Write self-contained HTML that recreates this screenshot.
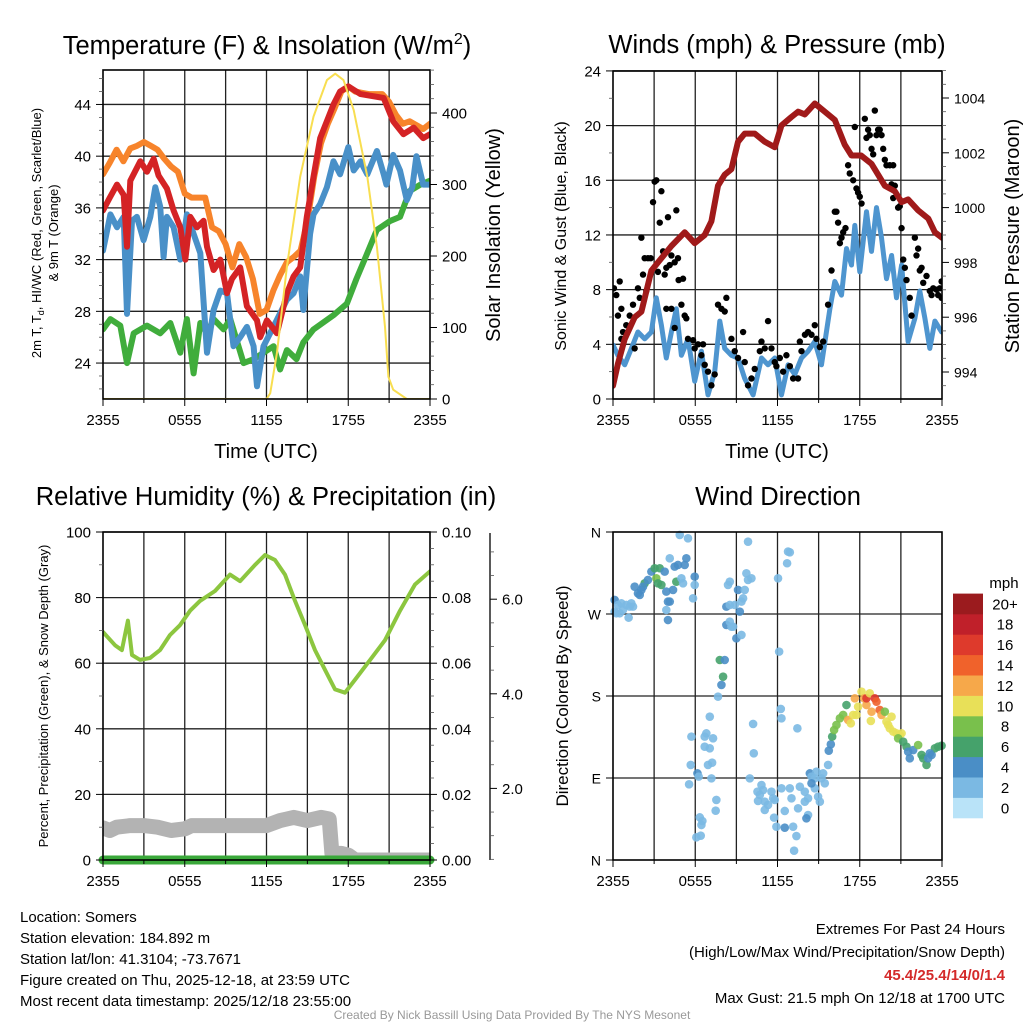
<!DOCTYPE html>
<html><head><meta charset="utf-8">
<style>
html,body{margin:0;padding:0;background:#fff;}
svg{display:block;font-family:"Liberation Sans",Arial,sans-serif;}
</style></head>
<body>
<svg id="chart" width="1024" height="1024" viewBox="0 0 1024 1024" xmlns="http://www.w3.org/2000/svg">
<rect width="1024" height="1024" fill="#fff"/>
<g id="layer"></g>
<!-- titles -->
<text x="267" y="54" font-size="25.5" text-anchor="middle">Temperature (F) &amp; Insolation (W/m<tspan font-size="16" dy="-10">2</tspan><tspan dy="10">)</tspan></text>
<text x="777" y="53" font-size="25.5" text-anchor="middle">Winds (mph) &amp; Pressure (mb)</text>
<text x="266" y="505" font-size="25.5" text-anchor="middle">Relative Humidity (%) &amp; Precipitation (in)</text>
<text x="778" y="505" font-size="25.5" text-anchor="middle">Wind Direction</text>
<!-- axis titles -->
<text x="266" y="458" font-size="20" text-anchor="middle">Time (UTC)</text>
<text x="777" y="458" font-size="20" text-anchor="middle">Time (UTC)</text>
<text transform="translate(41,233) rotate(-90)" font-size="13" text-anchor="middle">2m T, T<tspan font-size="9" dy="3">d</tspan><tspan dy="-3">, HI/WC (Red, Green, Scarlet/Blue)</tspan></text>
<text transform="translate(58,233) rotate(-90)" font-size="13" text-anchor="middle">&amp; 9m T (Orange)</text>
<text transform="translate(500,235) rotate(-90)" font-size="20" text-anchor="middle">Solar Insolation (Yellow)</text>
<text transform="translate(566,236) rotate(-90)" font-size="16" text-anchor="middle">Sonic Wind &amp; Gust (Blue, Black)</text>
<text transform="translate(1019,236) rotate(-90)" font-size="20" text-anchor="middle">Station Pressure (Maroon)</text>
<text transform="translate(48,696) rotate(-90)" font-size="13" text-anchor="middle">Percent, Precipitation (Green), &amp; Snow Depth (Gray)</text>
<text transform="translate(568,696) rotate(-90)" font-size="17" text-anchor="middle">Direction (Colored By Speed)</text>
<!-- footer -->
<g font-size="15">
<text x="20" y="922">Location: Somers</text>
<text x="20" y="943">Station elevation: 184.892 m</text>
<text x="20" y="964">Station lat/lon: 41.3104; -73.7671</text>
<text x="20" y="985">Figure created on Thu, 2025-12-18, at 23:59 UTC</text>
<text x="20" y="1006">Most recent data timestamp: 2025/12/18 23:55:00</text>
</g>
<g font-size="15" text-anchor="end">
<text x="1005" y="934">Extremes For Past 24 Hours</text>
<text x="1005" y="957">(High/Low/Max Wind/Precipitation/Snow Depth)</text>
<text x="1005" y="980" fill="#d42a2a" font-weight="bold">45.4/25.4/14/0/1.4</text>
<text x="1005" y="1003">Max Gust: 21.5 mph On 12/18 at 1700 UTC</text>
</g>
<text x="512" y="1019" font-size="12" fill="#999" text-anchor="middle">Created By Nick Bassill Using Data Provided By The NYS Mesonet</text>
</svg>
<script>
// ---------- DATA ----------
const timeTickLabels = ["2355","0555","1155","1755","2355"];
const tempTicks = [24,28,32,36,40,44];
const solarTicks = [0,100,200,300,400];
const windTicks = [0,4,8,12,16,20,24];
const pressureTicks = [994,996,998,1000,1002,1004];
const rhTicks = [0,20,40,60,80,100];
const precipTicks = ["0.00","0.02","0.04","0.06","0.08","0.10"];
const snowTicks = ["2.0","4.0","6.0"];
const dirTicks = ["N","E","S","W","N"];
const speedBins = ["0","2","4","6","8","10","12","14","16","18","20+"];

const temp9m = [[0,38.6],[0.5,39.5],[1,40.5],[1.5,39.6],[2,40.6],[2.5,40.8],[3,41.1],[3.5,40.8],[4,40.5],[4.5,39.8],[5,39.2],[5.5,38.8],[6,37.1],[6.5,36.8],[7,36.8],[7.5,36.8],[8,34.5],[8.5,34.2],[9,33.2],[9.5,31.4],[10,33.2],[10.5,32.2],[11,30.5],[11.5,27.8],[12,28.1],[12.5,29.6],[13,30.8],[13.5,31.8],[14,32.2],[14.5,32.7],[15,35.0],[15.5,38.4],[16,41.0],[16.5,42.5],[17,43.7],[17.5,45.0],[18,45.4],[18.5,45.0],[19,44.9],[19.5,44.8],[20,44.8],[20.5,44.8],[21,44.2],[21.5,43.2],[22,42.5],[22.5,42.7],[23,42.4],[23.5,42.1],[24,42.5]];
const temp2m = [[0,35.8],[0.5,36.8],[1.03,37.8],[1.52,37.0],[1.76,33.0],[2.0,38.1],[2.74,39.6],[3.23,38.8],[3.72,39.8],[4.08,38.5],[4.69,37.5],[5.18,35.8],[5.67,34.5],[6.04,32.0],[6.41,35.3],[6.89,34.5],[7.38,35.0],[7.63,33.0],[8.12,31.2],[8.61,32.0],[9.1,29.4],[9.46,30.5],[10.07,31.4],[10.56,28.4],[11.3,27.3],[11.54,26.0],[12.03,27.3],[12.76,26.3],[13.5,29.4],[13.99,30.7],[14.47,31.4],[14.96,35.3],[15.45,38.4],[15.94,41.4],[16.92,44.0],[17.4,45.0],[18.0,45.4],[18.9,44.8],[20.6,44.5],[21.3,42.7],[22.05,41.7],[22.8,42.2],[23.5,41.4],[24,41.7]];
const windChill = [[0,32.7],[0.54,35.5],[1.03,34.5],[1.52,35.3],[1.76,27.8],[2.13,35.0],[2.49,35.3],[2.98,33.5],[3.47,35.3],[3.84,37.6],[4.2,36.1],[4.45,32.2],[4.69,35.3],[5.18,34.5],[5.67,32.0],[6.16,35.5],[6.65,34.0],[7.14,32.5],[7.63,24.8],[8.12,28.1],[8.61,29.6],[9.1,29.4],[9.58,25.3],[10.07,26.0],[10.56,26.8],[11.05,25.3],[11.3,22.2],[11.78,25.3],[12.6,27.0],[13.5,28.9],[13.99,29.4],[14.47,30.7],[14.7,28.1],[15.2,34.0],[15.45,35.5],[15.94,36.3],[16.43,37.6],[16.92,39.6],[17.4,38.6],[18.0,40.7],[18.4,38.9],[18.9,39.6],[19.4,38.6],[20.1,40.4],[20.6,38.6],[20.8,37.8],[21.3,40.1],[21.8,38.9],[22.3,36.6],[22.7,37.6],[23.0,40.0],[23.5,37.8],[24,37.8]];
const dewpoint = [[0,26.6],[0.54,27.4],[1.27,26.9],[1.76,24.0],[2.25,26.3],[3.23,26.9],[4.2,26.3],[4.94,27.1],[5.67,24.8],[6.16,27.4],[6.65,23.2],[7.14,27.1],[7.63,26.3],[8.12,27.4],[8.85,26.6],[9.34,27.4],[10.32,24.0],[11.05,24.3],[11.78,24.8],[12.52,25.3],[13.0,23.5],[13.5,25.0],[14.2,24.3],[14.7,25.6],[15.45,26.6],[16.92,27.7],[17.9,28.6],[18.6,30.5],[19.4,32.5],[20.1,34.3],[21.1,35.0],[21.8,35.3],[22.5,37.3],[23.3,37.8],[24,38.1]];
const solar = [[0,0],[12.0,0],[12.27,8],[12.76,64],[13.5,185],[14.47,311],[15.45,395],[16.43,446],[17.04,455],[17.65,446],[18.4,404],[19.4,311],[20.1,213],[20.7,101],[20.95,31],[21.3,13],[22.3,0],[24,0]];

const pressure = [[0,993.5],[0.36,994.3],[0.85,995.2],[1.58,996.0],[2.07,996.2],[2.8,997.7],[3.28,998.0],[4.26,998.6],[5.23,999.1],[5.96,998.7],[6.69,999.0],[7.18,999.5],[7.66,1000.8],[8.15,1001.2],[8.64,1001.4],[9.12,1002.4],[9.61,1002.7],[10.34,1002.7],[11.07,1002.4],[11.8,1002.2],[12.29,1003.0],[13.0,1003.3],[13.5,1003.5],[14.0,1003.4],[14.72,1003.8],[15.45,1003.5],[16.18,1003.2],[16.9,1002.3],[17.4,1001.9],[18.1,1001.9],[18.86,1001.6],[19.83,1000.8],[20.56,1000.6],[21.05,1000.2],[21.53,1000.3],[22.26,999.9],[23.0,999.6],[23.48,999.1],[24,998.9]];
const sonicWind = [[0,3.95],[0.36,3.2],[0.85,2.5],[1.34,3.7],[1.82,4.9],[2.31,4.4],[2.8,4.9],[3.16,7.4],[3.53,5.4],[3.89,3.0],[4.26,4.9],[4.62,6.6],[4.99,3.2],[5.47,4.4],[5.96,1.3],[6.45,3.5],[6.93,0.3],[7.42,2.0],[7.79,5.7],[8.15,3.7],[8.64,3.2],[9.12,3.0],[9.61,1.5],[10.22,0.3],[10.83,3.0],[11.31,2.5],[11.8,3.0],[12.29,0.3],[12.77,2.5],[13.26,1.8],[13.75,3.0],[14.23,3.5],[14.72,4.2],[15.21,2.5],[15.57,4.9],[15.82,6.6],[16.18,8.6],[16.67,7.6],[17.03,11.0],[17.4,9.8],[17.64,12.7],[18.0,9.3],[18.49,13.7],[18.86,10.8],[19.22,14.0],[19.59,11.8],[19.95,8.8],[20.32,10.5],[20.68,7.4],[21.05,9.8],[21.53,4.2],[22.02,5.9],[22.38,7.9],[22.75,5.9],[23.11,3.7],[23.48,5.7],[23.97,4.9]];
const gustTimes = [0.07,0.24,0.49,0.61,0.36,0.73,0.61,0.97,1.22,1.46,1.58,1.82,1.95,2.07,2.19,2.31,2.43,2.55,2.75,2.92,3.04,3.16,3.28,3.41,3.53,3.65,3.77,3.89,4.01,4.14,4.26,4.5,4.62,4.74,4.79,5.11,3.89,4.26,4.5,4.99,5.23,5.35,5.47,5.84,5.96,6.2,6.45,6.57,6.69,6.93,7.18,7.42,7.66,7.91,8.15,8.27,8.64,8.88,9.12,9.49,9.61,9.85,10.1,10.34,10.71,10.83,11.07,11.31,11.56,11.8,11.92,12.17,12.41,12.65,12.9,13.14,13.5,13.63,13.75,14.0,14.23,14.48,14.72,14.84,15.09,15.33,15.69,15.94,16.18,16.3,16.42,16.55,16.67,16.79,16.96,17.15,17.27,17.52,17.64,17.76,17.88,18.0,18.13,18.37,18.49,18.61,18.73,18.86,18.98,19.1,19.22,19.34,19.46,19.59,19.71,19.83,19.95,20.19,20.44,20.32,20.44,20.56,20.8,20.92,21.05,21.17,21.29,21.41,21.65,21.78,22.02,22.14,22.26,22.38,22.51,22.63,22.87,23.11,23.24,23.36,23.6,23.72,23.84,23.97,23.97];
const gustSpeeds = [8.1,7.6,8.6,6.6,6.1,4.9,4.4,5.4,6.1,6.9,3.7,8.1,7.4,11.8,9.1,10.3,7.9,10.3,10.3,14.4,15.9,16.0,9.3,12.9,15.2,10.8,9.1,9.6,13.3,9.8,10.5,10.0,13.8,10.3,8.7,8.8,6.6,6.6,5.2,6.9,6.1,5.9,4.4,4.3,3.7,4.0,3.2,4.0,2.5,2.0,1.0,1.8,6.9,6.6,6.4,7.4,4.4,3.5,3.0,4.9,2.7,1.0,1.5,2.2,3.5,4.2,3.7,5.7,3.7,2.7,2.4,3.0,2.0,3.2,2.4,1.5,1.5,4.2,3.5,4.7,4.9,4.7,5.4,4.4,3.8,4.2,6.9,9.4,13.7,13.7,12.9,11.4,11.8,12.2,12.5,17.1,16.5,16.0,19.9,15.4,15.1,14.8,14.3,20.5,19.1,19.7,19.3,18.3,17.9,21.1,19.3,19.7,19.7,19.3,18.3,17.5,17.1,17.1,17.1,15.7,14.7,15.6,14.0,14.1,12.5,10.2,9.6,8.7,7.4,6.1,11.8,10.5,11.0,9.4,9.6,8.5,9.0,7.9,7.6,8.1,8.0,7.6,8.1,8.6,7.4];

const rhSeries = [[0,69.5],[0.88,65.5],[1.39,64],[1.83,73],[2.13,62.5],[2.72,61],[3.45,61.6],[4.18,64],[4.92,68.6],[5.65,71.6],[6.39,76],[7.12,79],[8.22,82],[9.32,87],[10.06,85],[11.16,90],[11.89,93],[12.62,91.5],[13.36,87],[14.09,79],[14.83,71.6],[15.56,64],[16.29,58],[17.03,52],[17.76,51],[18.5,55],[19.6,61],[20.7,67],[21.8,76],[22.9,84],[24,88]];
const snowDepthPct = [[0,9.8],[0.5,9],[1,10],[2,10.5],[3,10.5],[4,10],[5,9],[6,9.5],[6.5,10.5],[8,10.5],[10,10.5],[12,10.5],[13,12],[13.5,12.5],[14,13],[15,12],[16,13],[16.6,12.5],[16.8,2],[17.5,2],[18,1.5],[18.5,0],[24,0]];
const precip = [[0,0],[24,0]];

const dirTimes = [0.12,0.36,0.61,0.97,1.22,1.46,0.24,0.49,1.14,0.12,0.73,1.34,1.58,1.82,1.95,2.07,2.31,2.19,2.55,2.8,3.04,3.16,3.41,3.53,3.28,3.77,3.89,4.14,4.38,4.01,4.14,4.5,4.74,4.62,4.99,4.87,5.47,5.35,5.23,5.11,5.84,5.96,5.96,3.89,4.01,
8.27,8.52,8.88,9.25,9.12,9.37,9.49,9.61,9.73,9.85,10.1,8.52,8.39,9.85,8.27,8.64,8.52,8.76,9.0,9.37,7.79,8.15,8.03,7.91,7.66,7.06,6.81,6.69,5.72,7.3,6.69,7.06,5.67,6.93,7.23,6.16,6.25,7.18,5.55,7.54,7.49,6.33,6.52,6.45,6.08,6.4,
12.04,12.77,12.9,12.7,12.12,12.24,12.29,10.22,13.45,10.27,9.98,10.83,10.95,10.54,10.58,10.71,11.07,11.56,11.68,11.31,11.07,11.8,11.75,12.53,11.92,12.53,13.14,13.38,13.21,12.29,12.9,13.02,13.5,13.99,14.23,13.63,13.99,14.36,14.48,14.72,14.84,15.21,15.33,15.45,14.96,14.72,14.48,14.23,14.11,15.09,
15.69,15.74,15.89,15.99,16.13,16.3,16.55,16.79,17.03,17.15,17.35,17.52,17.64,17.76,17.88,18.13,18.32,18.49,18.49,18.73,18.81,18.86,19.1,19.22,19.46,19.59,19.83,19.95,20.07,20.32,20.19,20.44,20.68,20.92,21.05,20.8,21.17,21.41,21.53,21.65,21.9,22.26,22.51,22.63,22.87,22.99,23.24,23.48,23.72,23.97,23.11];
const dirDegrees = [285.4,279.9,281.7,279.9,278.1,278.1,270.8,270.8,266.0,272.6,274.4,281.7,300.0,292.7,290.9,296.4,303.7,300.0,307.4,316.5,320.2,309.2,320.2,301.9,303.7,316.5,294.6,283.6,296.4,283.6,331.1,322.0,323.8,305.5,309.2,356.8,353.1,331.1,323.8,303.7,287.2,311.0,301.9,274.4,263.4,
278.1,279.9,279.9,272.6,296.4,283.6,287.2,296.4,314.7,307.4,309.2,305.5,301.9,349.4,258.0,256.1,261.6,256.1,243.3,247.0,219.5,219.5,201.2,192.1,179.3,157.3,139.0,135.4,135.4,133.6,124.4,122.6,104.3,104.3,106.8,95.1,91.5,89.6,83.1,65.9,54.1,46.8,42.8,38.4,24.9,26.7,
309.2,338.5,337.7,325.7,228.7,165.8,155.5,149.3,144.5,117.1,89.6,82.3,76.8,75.0,64.8,71.4,64.0,75.0,67.7,60.4,54.9,65.9,46.5,53.8,36.6,35.5,36.6,26.3,10.2,78.7,78.7,67.7,56.7,64.0,67.7,80.5,75.0,95.1,91.5,89.6,97.0,89.6,95.1,84.2,69.5,78.7,84.2,49.4,45.7,64.0,
104.3,120.0,127.0,135.4,142.7,148.2,155.5,159.2,170.1,153.7,150.0,159.2,177.5,159.2,168.3,184.8,177.5,170.1,177.5,183.0,152.6,162.8,177.5,173.8,164.7,159.2,162.8,151.9,148.2,157.3,144.5,140.9,139.0,137.2,139.0,133.6,129.9,124.4,118.9,111.6,120.7,126.2,115.3,111.6,104.3,111.6,115.3,122.6,124.4,125.5,117.1];
const dirSpeeds = [4,2,2,2,2,2,2,2,2,2,2,2,4,4,4,4,6,4,4,4,6,8,6,6,6,4,4,4,4,4,2,4,4,6,2,2,2,4,4,2,1,4,2,2,4,
4,2,2,4,4,2,2,1,2,1,1,2,2,1,4,2,2,2,4,2,6,4,6,4,1,1,1,2,2,1,2,1,2,1,1,4,2,1,2,1,2,1,2,2,1,1,
1,2,1,2,1,1,1,1,1,1,1,2,2,2,2,2,2,2,2,2,2,2,2,1,1,4,1,1,1,1,1,1,1,2,2,2,2,4,2,2,2,2,2,2,2,2,4,2,4,1,
2,4,4,6,8,8,8,8,6,12,10,10,12,10,10,10,12,12,16,10,10,12,16,14,14,12,8,10,10,10,10,10,10,10,10,8,6,6,4,4,4,8,6,6,6,4,4,6,6,6,4];
const speedColors = ["#b9e3f8","#7bb9e3","#4a8ec6","#45a26b","#79c04c","#e8e058","#f6a84a","#f0622b","#de3a2c","#c0202a","#9b1b1e"];

// ---------- DRAWING ----------
const NS = "http://www.w3.org/2000/svg";
const layer = document.getElementById("layer");
function mk(tag, attrs, parent){ const e=document.createElementNS(NS,tag); for(const k in attrs) e.setAttribute(k,attrs[k]); (parent||layer).appendChild(e); return e; }

const P1={x0:103,x1:430,y0:70,y1:399};
const P2={x0:613,x1:942,y0:71,y1:399};
const P3={x0:103,x1:430,y0:532,y1:860};
const P4={x0:613,x1:942,y0:532,y1:860};
function xT(P,t){ return P.x0 + t/24*(P.x1-P.x0); }
const yTemp=v=>399-(v-21.22)*12.93;
const ySolar=v=>399-v*0.715;
const yWind=v=>399-v*13.67;
const yPres=v=>372-(v-994)*27.4;
const yRH=v=>860-v*3.28;
const yPrecip=v=>860-v*3280;
const ySnow=v=>883-v*47.3;
const yDir=d=>860-d/360*328;

function grid(P, yVals, name){
  const g=mk("g",{});
  
  
  for(let i=1;i<8;i++){ const x=xT(P,i*3); mk("line",{x1:x,x2:x,y1:P.y0,y2:P.y1,stroke:"#222","stroke-width":1.3},g); }
  yVals.forEach(y=>mk("line",{x1:P.x0,x2:P.x1,y1:y,y2:y,stroke:"#222","stroke-width":1.3},g));
}
function frame(P,name){
  const r=mk("rect",{x:P.x0,y:P.y0,width:P.x1-P.x0,height:P.y1-P.y0,fill:"none",stroke:"#000","stroke-width":1.6});
  
  
}
function xAxis(P,name){
  const g=mk("g",{});
  
  
  for(let i=0;i<=8;i++){ const x=xT(P,i*3); mk("line",{x1:x,x2:x,y1:P.y1,y2:P.y1+(i%2?4:7),stroke:"#000","stroke-width":1},g); }
  timeTickLabels.forEach((lab,i)=>{ const t=mk("text",{x:xT(P,i*6),y:P.y1+26,"font-size":15,"text-anchor":"middle"},g); t.textContent=lab; });
}
function yTicks(x, vals, fy, labels, side, name, size){
  const g=mk("g",{});
  
  
  vals.forEach((v,i)=>{ const y=fy(v); mk("line",{x1:x,x2:x+side*7,y1:y,y2:y,stroke:"#000","stroke-width":1},g);
    const t=mk("text",{x:x+side*12,y:y+5.5,"font-size":size||15,"text-anchor":side<0?"end":"start"},g); t.textContent=labels[i]; });
}
function minor(x, vals, fy, side){ vals.forEach(v=>{const y=fy(v); mk("line",{x1:x,x2:x+side*4,y1:y,y2:y,stroke:"#555","stroke-width":0.8});}); }
function path(P, data, fy, color, width, name, extra){
  const d=data.map((p,i)=>(i?"L":"M")+xT(P,p[0]).toFixed(1)+","+fy(p[1]).toFixed(1)).join("");
  const e=mk("path",Object.assign({d:d,fill:"none",stroke:color,"stroke-width":width,"stroke-linejoin":"round","stroke-linecap":"round"},extra||{}));
  
  
  return e;
}
function clip(P,id){ const c=mk("clipPath",{id:id}); mk("rect",{x:P.x0,y:P.y0,width:P.x1-P.x0,height:P.y1-P.y0},c); }
clip(P1,"c1"); clip(P2,"c2"); clip(P3,"c3"); clip({x0:P4.x0-6,x1:P4.x1+6,y0:P4.y0-6,y1:P4.y1+6},"c4");

// Panel 1
grid(P1, tempTicks.map(yTemp), "temp-gridlines");
path(P1, dewpoint, yTemp, "#40ad3c", 6, "dewpoint-line",{"clip-path":"url(#c1)"});
path(P1, temp9m, yTemp, "#f7842b", 6, "temp-9m-line",{"clip-path":"url(#c1)"});
path(P1, windChill, yTemp, "#4990c8", 6, "wind-chill-line",{"clip-path":"url(#c1)"});
path(P1, temp2m, yTemp, "#d42325", 6, "temp-2m-line",{"clip-path":"url(#c1)"});
path(P1, solar, ySolar, "#f8de50", 2, "solar-insolation-line",{"clip-path":"url(#c1)"});
frame(P1,"temp-plot-frame");
xAxis(P1,"temp-x-axis");
yTicks(P1.x0, tempTicks, yTemp, tempTicks.map(String), -1, "temp-y-axis");
minor(P1.x0, [22,23,25,26,27,29,30,31,33,34,35,37,38,39,41,42,43,45,46], yTemp, -1);
yTicks(P1.x1, solarTicks, ySolar, solarTicks.map(String), 1, "solar-y-axis");
minor(P1.x1, [20,40,60,80,120,140,160,180,220,240,260,280,320,340,360,380,420,440,460], ySolar, 1);

// Panel 2
grid(P2, windTicks.map(yWind), "wind-gridlines");
path(P2, sonicWind, yWind, "#4e95cf", 5, "sonic-wind-line",{"clip-path":"url(#c2)"});
const gg=mk("g",{"clip-path":"url(#c2)"});


gustTimes.forEach((t,i)=>{ const c=mk("circle",{cx:xT(P2,t),cy:yWind(gustSpeeds[i]),r:3.2,fill:"#000"},gg);
  
   });
path(P2, pressure, yPres, "#a01a1a", 6, "pressure-line",{"clip-path":"url(#c2)"});
frame(P2,"wind-plot-frame");
xAxis(P2,"wind-x-axis");
yTicks(P2.x0, windTicks, yWind, windTicks.map(String), -1, "wind-y-axis");
minor(P2.x0, [2,6,10,14,18,22], yWind, -1);
yTicks(P2.x1, pressureTicks, yPres, pressureTicks.map(String), 1, "pressure-y-axis", 14);
minor(P2.x1, [993.5,994.5,995,995.5,996.5,997,997.5,998.5,999,999.5,1000.5,1001,1001.5,1002.5,1003,1003.5,1004.5,1005], yPres, 1);

// Panel 3
grid(P3, rhTicks.map(yRH), "humidity-gridlines");
path(P3, snowDepthPct, yRH, "#b3b3b3", 15, "snow-depth-line",{"clip-path":"url(#c3)"});
path(P3, rhSeries, yRH, "#8cc63f", 4, "relative-humidity-line",{"clip-path":"url(#c3)"});
path(P3, precip, yPrecip, "#3aa83a", 9, "precipitation-line");
frame(P3,"humidity-plot-frame");
xAxis(P3,"humidity-x-axis");
yTicks(P3.x0, rhTicks, yRH, rhTicks.map(String), -1, "humidity-y-axis");
minor(P3.x0, [10,30,50,70,90], yRH, -1);
yTicks(P3.x1, precipTicks.map(Number), yPrecip, precipTicks, 1, "precip-y-axis");
minor(P3.x1, [0.005,0.01,0.015,0.025,0.03,0.035,0.045,0.05,0.055,0.065,0.07,0.075,0.085,0.09,0.095], yPrecip, 1);
mk("line",{x1:490,x2:490,y1:533,y2:860,stroke:"#000","stroke-width":1.3});
yTicks(490, snowTicks.map(Number), ySnow, snowTicks, 1, "snow-depth-y-axis");
minor(490, [0.5,1,1.5,2.5,3,3.5,4.5,5,5.5,6.5,7], ySnow, 1);

// Panel 4
grid(P4, [90,180,270].map(yDir), "direction-gridlines");
const dg=mk("g",{"clip-path":"url(#c4)"});


dirTimes.forEach((t,i)=>{ const s=dirSpeeds[i]; const idx=Math.min(10,Math.max(0,Math.round(s/2)));
  const c=mk("circle",{cx:xT(P4,t),cy:yDir(dirDegrees[i]),r:4.3,fill:speedColors[idx],"fill-opacity":0.9},dg);
  
   });
frame(P4,"direction-plot-frame");
xAxis(P4,"direction-x-axis");
yTicks(P4.x0, [0,90,180,270,360], yDir, dirTicks, -1, "direction-y-axis", 14);
// colorbar
const cb=mk("g",{});


const bh=20.4;
speedBins.forEach((lab,i)=>{ const y=818-(i+1)*bh;
  mk("rect",{x:953,y:y,width:30,height:bh+0.3,fill:speedColors[i]},cb);
  const t=mk("text",{x:1005,y:y+bh/2+5.5,"font-size":15,"text-anchor":"middle"},cb); t.textContent=lab; });
const mph=mk("text",{x:1004,y:588,"font-size":15,"text-anchor":"middle"},cb); mph.textContent="mph";
</script>
</body></html>
